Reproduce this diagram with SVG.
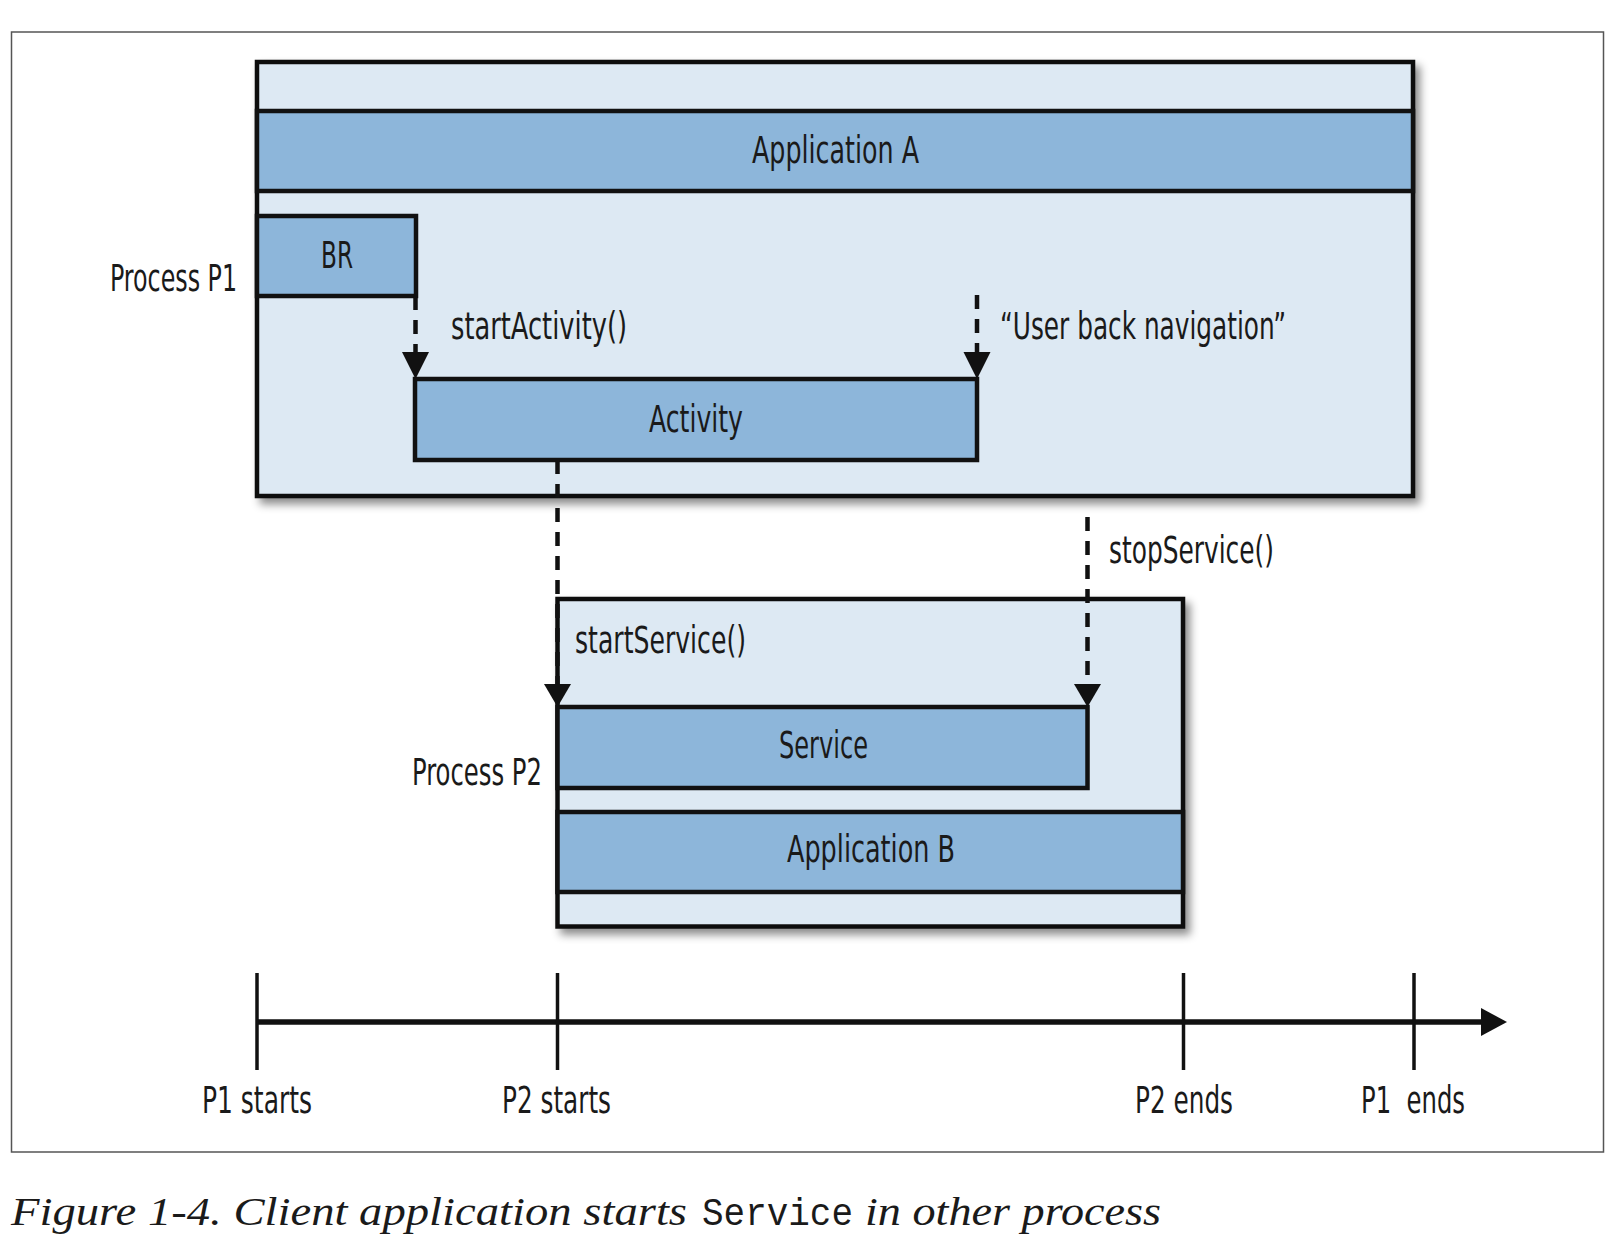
<svg xmlns="http://www.w3.org/2000/svg" width="1622" height="1256" viewBox="0 0 1622 1256">
<style>
.lbl{font-family:'Liberation Sans Narrow','DejaVu Sans Condensed','Liberation Sans',Arial,sans-serif;font-stretch:condensed;font-size:37px;fill:#1a1a1a}
.cap{font-family:'Liberation Serif','Times New Roman',serif;font-style:italic;font-size:40px;fill:#1a1a1a}
.mono{font-family:'Liberation Mono','DejaVu Sans Mono',monospace;font-size:38px;fill:#1a1a1a}
.light{fill:#dde9f3;stroke:#111;stroke-width:4.5}
.mid{fill:#8db6da;stroke:#111;stroke-width:4.5}
.dash{fill:none;stroke:#111;stroke-width:4.5;stroke-dasharray:14 10}
.tick{stroke:#111;stroke-width:3.5}
.head{fill:#111}
</style>
<defs>
<filter id="shadow" x="-5%" y="-5%" width="115%" height="120%">
<feDropShadow dx="5" dy="6" stdDeviation="4" flood-color="#000" flood-opacity="0.45"/>
</filter>
</defs>
<rect x="0" y="0" width="1622" height="1256" fill="#fff"/>
<rect x="11.5" y="32" width="1592" height="1120" fill="none" stroke="#555" stroke-width="1.5"/>

<g id="process-p1">
<rect class="light" x="257" y="62" width="1156" height="434" filter="url(#shadow)"/>
<text class="lbl" x="110" y="291" textLength="127" lengthAdjust="spacingAndGlyphs">Process P1</text>
</g>
<g id="application-a">
<rect class="mid" x="257" y="111" width="1156" height="80"/>
<text class="lbl" x="752" y="163" textLength="167" lengthAdjust="spacingAndGlyphs">Application A</text>
</g>
<g id="br">
<rect class="mid" x="257" y="216" width="159" height="80"/>
<text class="lbl" x="321" y="268" textLength="32" lengthAdjust="spacingAndGlyphs">BR</text>
</g>
<g id="activity">
<rect class="mid" x="415" y="379" width="562" height="81"/>
<text class="lbl" x="649" y="432" textLength="94" lengthAdjust="spacingAndGlyphs">Activity</text>
</g>

<g id="process-p2">
<rect class="light" x="557.5" y="599" width="625.5" height="327.5" filter="url(#shadow)"/>
<text class="lbl" x="412" y="785" textLength="130" lengthAdjust="spacingAndGlyphs">Process P2</text>
</g>
<g id="service">
<rect class="mid" x="557.5" y="707" width="530" height="81"/>
<text class="lbl" x="779" y="758" textLength="89" lengthAdjust="spacingAndGlyphs">Service</text>
</g>
<g id="application-b">
<rect class="mid" x="557.5" y="812" width="625.5" height="80"/>
<text class="lbl" x="787" y="862" textLength="168" lengthAdjust="spacingAndGlyphs">Application B</text>
</g>

<g id="connectors">
<line class="dash" x1="415.5" y1="296" x2="415.5" y2="354"/>
<polygon class="head" points="402,352 429,352 415.5,379"/>
<text class="lbl" x="451" y="339" textLength="176" lengthAdjust="spacingAndGlyphs">startActivity()</text>

<line class="dash" x1="977" y1="295" x2="977" y2="354"/>
<polygon class="head" points="963.5,352 990.5,352 977,379"/>
<text class="lbl" x="1000" y="339" textLength="286" lengthAdjust="spacingAndGlyphs">“User back navigation”</text>

<line class="dash" x1="557.5" y1="460" x2="557.5" y2="686"/>
<polygon class="head" points="544,684 571,684 557.5,707"/>
<text class="lbl" x="575" y="653" textLength="171" lengthAdjust="spacingAndGlyphs">startService()</text>

<line class="dash" x1="1087.5" y1="517" x2="1087.5" y2="686"/>
<polygon class="head" points="1074,684 1101,684 1087.5,707"/>
<text class="lbl" x="1109" y="563" textLength="165" lengthAdjust="spacingAndGlyphs">stopService()</text>
</g>

<g id="timeline">
<line x1="257" y1="1022" x2="1486" y2="1022" stroke="#111" stroke-width="5.5"/>
<polygon class="head" points="1481,1008 1507,1022 1481,1036"/>
<line class="tick" x1="257" y1="973" x2="257" y2="1070"/>
<line class="tick" x1="557.5" y1="973" x2="557.5" y2="1070"/>
<line class="tick" x1="1183.5" y1="973" x2="1183.5" y2="1070"/>
<line class="tick" x1="1414" y1="973" x2="1414" y2="1070"/>
<text class="lbl" x="202" y="1113" textLength="110" lengthAdjust="spacingAndGlyphs">P1 starts</text>
<text class="lbl" x="502" y="1113" textLength="109" lengthAdjust="spacingAndGlyphs">P2 starts</text>
<text class="lbl" x="1135" y="1113" textLength="98" lengthAdjust="spacingAndGlyphs">P2 ends</text>
<text class="lbl" x="1361" y="1113" textLength="104" lengthAdjust="spacingAndGlyphs" xml:space="preserve">P1  ends</text>
</g>

<g id="caption">
<text class="cap" x="11" y="1225" textLength="676" lengthAdjust="spacingAndGlyphs">Figure 1-4. Client application starts</text>
<text class="mono" x="702" y="1225" textLength="151" lengthAdjust="spacingAndGlyphs">Service</text>
<text class="cap" x="865" y="1225" textLength="296" lengthAdjust="spacingAndGlyphs">in other process</text>
</g>
</svg>
